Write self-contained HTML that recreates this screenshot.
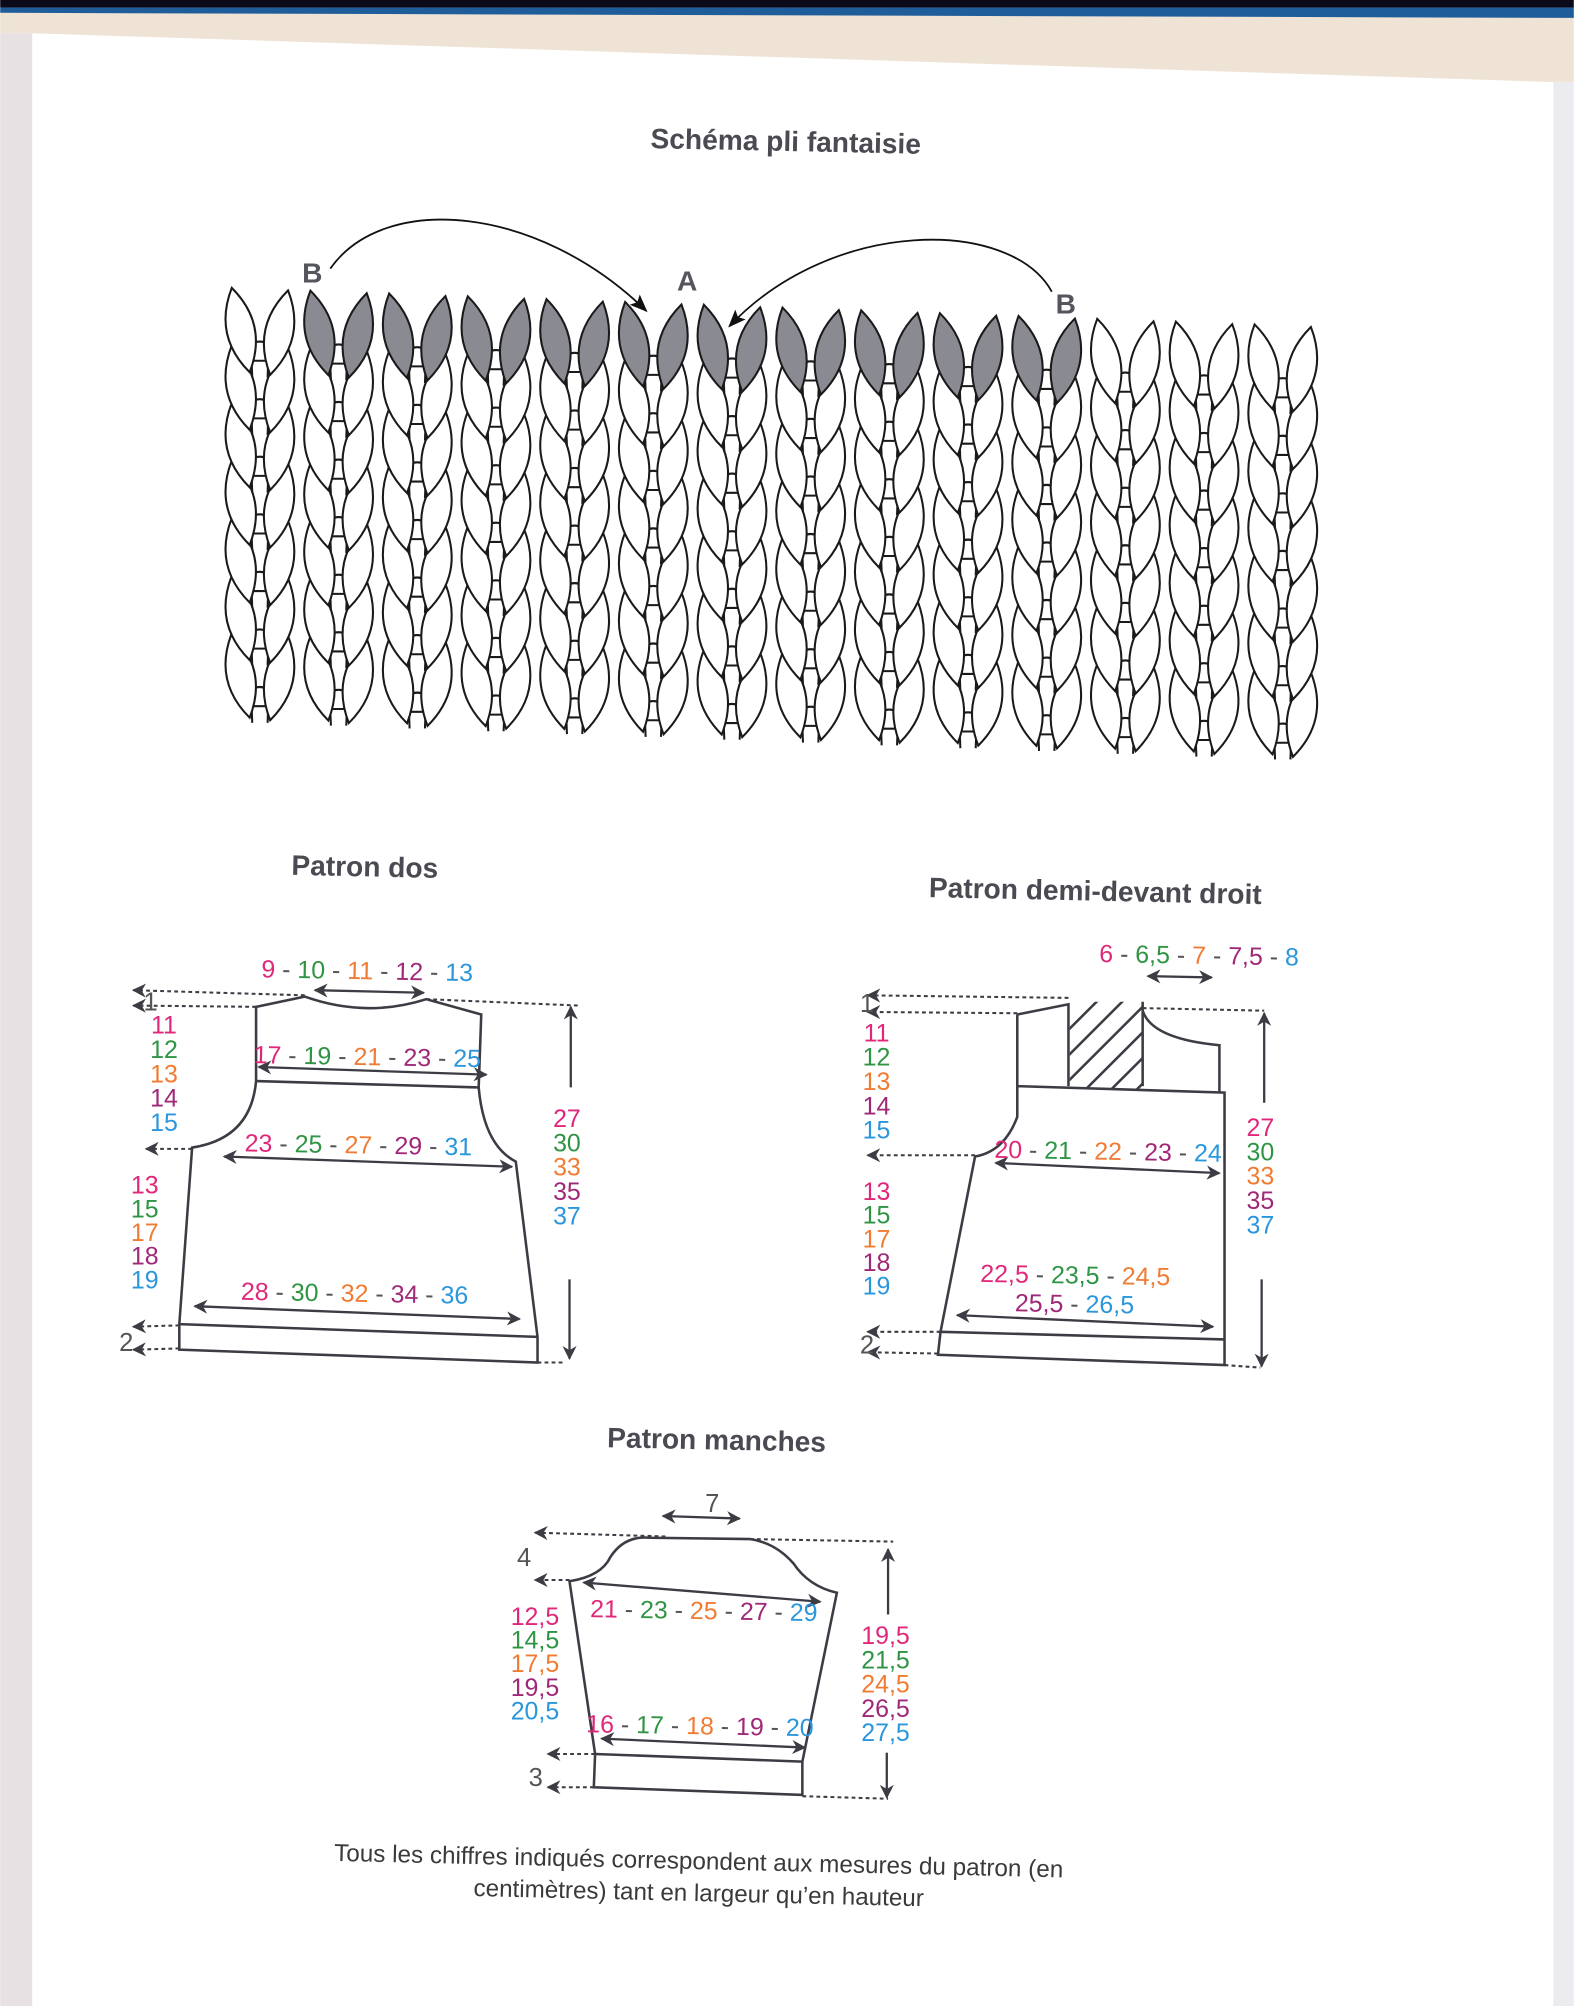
<!DOCTYPE html>
<html><head><meta charset="utf-8"><style>
html,body{margin:0;padding:0;background:#fff;}
svg{display:block;}
text{font-family:"Liberation Sans",sans-serif;}
.n{font-size:19.5px;}
.t{font-size:22px;font-weight:bold;fill:#4a4a52;}
</style></head><body>
<svg id="s" width="1574" height="2006" viewBox="0 0 1230 1568" xmlns="http://www.w3.org/2000/svg">
<defs>
<marker id="ah" viewBox="0 0 10 10" refX="9" refY="5" markerWidth="11" markerHeight="11" markerUnits="userSpaceOnUse" orient="auto-start-reverse"><path d="M0,0 L10,5 L0,10 L3,5 z" fill="#3c3c44"/></marker>
<marker id="ak" viewBox="0 0 10 10" refX="9" refY="5" markerWidth="14" markerHeight="14" markerUnits="userSpaceOnUse" orient="auto"><path d="M0,1 L10,5 L0,9 L2,5 z" fill="#111"/></marker>
<clipPath id="hc"><rect x="836" y="783" width="57" height="68"/></clipPath>
</defs>
<rect width="1230" height="1568" fill="#fff"/>
<polygon points="0,8 1230,8 1230,64 1210,64 25,26 0,26" fill="#efe3d6"/>
<rect x="0" y="0" width="1230" height="6" fill="#0a0a18"/>
<polygon points="0,6 1230,6 1230,14 0,10" fill="#1f5c9a"/>
<rect x="0" y="26" width="25" height="1542" fill="#e8e1e3"/>
<rect x="1214" y="64" width="16" height="1504" fill="#ecebef"/>

<text class="t" x="614" y="118" text-anchor="middle" transform="rotate(1.2 614 112)">Schéma pli fantaisie</text>
<g id="knit" stroke="#1a1a1a" stroke-width="1.6"></g>
<g fill="none" stroke="#111" stroke-width="1.4">
<path d="M258,210 C300,150 420,160 505,243" marker-end="url(#ak)"/>
<path d="M822,228 C790,170 650,170 570,255" marker-end="url(#ak)"/>
</g>
<g font-weight="bold" font-size="22" fill="#55555d">
<text x="236" y="221">B</text><text x="529" y="227">A</text><text x="825" y="245">B</text>
</g>

<text class="t" x="285" y="685" text-anchor="middle" transform="rotate(1.2 285 678)">Patron dos</text>
<text class="t" x="856" y="704" text-anchor="middle" transform="rotate(1.2 856 697)">Patron demi-devant droit</text>
<text class="t" x="560" y="1133" text-anchor="middle" transform="rotate(1.2 560 1126)">Patron manches</text>

<g fill="none" stroke="#3c3c44" stroke-width="2">
<path d="M200,787 L238,779 Q286,796 333,781 L376,793 L374,850 Q378,895 403,908 L420,1045 L420,1065 L140,1055 L140,1035 L150,897 Q196,890 200,845 Z"/>
<path d="M200,845 L374,850 M140,1035 L420,1045"/>
<path d="M795,793 L835,785 L835,849 M893,783 L893,849 M893,790 Q900,812 953,817 L953,854"/>
<path d="M795,793 L795,873 Q785,900 762,904 L735,1041 L733,1059 L957,1067 L957,854 L795,849"/>
<path d="M735,1041 L957,1047"/>
<path d="M445,1236 Q470,1232 477,1217 Q488,1200 508,1202 L586,1203 Q606,1206 620,1222 Q632,1240 654,1245 L627,1377 L627,1403 L464,1397 L465,1371 Z"/>
<path d="M465,1371 L627,1377"/>
</g>
<g clip-path="url(#hc)" stroke="#3c3c44" stroke-width="2">
<path d="M800,840 L880,760 M800,860 L890,770 M800,880 L900,780 M810,890 L910,790 M830,890 L920,800 M850,890 L930,810 M870,890 L940,820"/>
</g>

<g fill="none" stroke="#3c3c44" stroke-width="1.6" stroke-dasharray="3 2.5" marker-end="url(#ah)">
<path d="M238,778 L104,774"/><path d="M200,787 L104,786"/><path d="M150,898 L114,898"/>
<path d="M140,1036 L104,1037"/><path d="M140,1054 L104,1055"/>
<path d="M835,780 L678,778"/><path d="M795,792 L678,791"/><path d="M762,903 L678,903"/>
<path d="M735,1041 L678,1041"/><path d="M733,1058 L678,1057"/>
<path d="M520,1201 L418,1198"/><path d="M445,1235 L418,1235"/>
<path d="M465,1371 L428,1371"/><path d="M464,1397 L428,1397"/>
</g>
<g fill="none" stroke="#3c3c44" stroke-width="1.6" stroke-dasharray="3 2.5">
<path d="M333,781 L452,786"/><path d="M420,1065 L440,1065"/>
<path d="M893,788 L988,790"/><path d="M957,1067 L985,1069"/>
<path d="M586,1203 L698,1205"/><path d="M627,1404 L694,1406"/>
</g>
<g fill="none" stroke="#3c3c44" stroke-width="1.8" marker-end="url(#ah)">
<path d="M446,850 L446,787"/><path d="M445,1000 L445,1062"/>
<path d="M988,862 L988,792"/><path d="M986,1000 L986,1068"/>
<path d="M694,1262 L694,1211"/><path d="M693,1370 L693,1405"/>
</g>
<g fill="none" stroke="#3c3c44" stroke-width="1.8" marker-start="url(#ah)" marker-end="url(#ah)">
<path d="M246,774 L331,776"/><path d="M202,834 L380,840"/><path d="M175,904 L400,912"/><path d="M152,1021 L406,1031"/>
<path d="M897,763 L947,764"/><path d="M778,909 L953,917"/><path d="M748,1028 L948,1037"/>
<path d="M518,1185 L578,1187"/><path d="M456,1237 L641,1252"/><path d="M470,1359 L629,1366"/>
</g>

<g class="n" fill="#555">
<text x="112" y="790" font-size="20">1</text><text x="93" y="1056" font-size="20">2</text>
<text x="672" y="791" font-size="20">1</text><text x="672" y="1058" font-size="20">2</text>
<text x="404" y="1224" font-size="20">4</text><text x="413" y="1396" font-size="20">3</text>
<text x="551" y="1182" font-size="20">7</text>
</g>

<g class="n" id="nums"></g>

<g font-family="'Liberation Sans Narrow','Liberation Sans',sans-serif" font-size="19" fill="#3a3a3a" text-anchor="middle">
<text x="546" y="1461" transform="rotate(1.3 546 1455)" textLength="570" lengthAdjust="spacingAndGlyphs">Tous les chiffres indiqués correspondent aux mesures du patron (en</text>
<text x="546" y="1486" transform="rotate(1.3 546 1480)" textLength="352" lengthAdjust="spacingAndGlyphs">centimètres) tant en largeur qu’en hauteur</text>
</g>
</svg>
<script>
(function(){
var NS="http://www.w3.org/2000/svg";
var k=document.getElementById("knit");
function el(n,a,p){var e=document.createElementNS(NS,n);for(var x in a)e.setAttribute(x,a[x]);(p||k).appendChild(e);return e;}
function leaf(x1,y1,x2,y2,fill){
 var mx=(x1+x2)/2,my=(y1+y2)/2,dx=x2-x1,dy=y2-y1,L=Math.sqrt(dx*dx+dy*dy),nx=-dy/L*22,ny=dx/L*22;
 el("path",{d:"M"+x1+","+y1+" Q"+(mx+nx)+","+(my+ny)+" "+x2+","+y2+" Q"+(mx-nx)+","+(my-ny)+" "+x1+","+y1+"Z",fill:fill});
}
for(var r=6;r>=0;r--){
 for(var c=0;c<14;c++){
  var cx=203+c*61.5, y=225+c*2.2+r*45;
  el("path",{d:"M"+(cx-13)+","+(y+48)+" Q"+cx+","+(y+36)+" "+(cx+13)+","+(y+48),fill:"none"});
  el("path",{d:"M"+(cx-7)+","+(y+44)+" L"+(cx-6)+","+(y+70)+" M"+(cx+7)+","+(y+44)+" L"+(cx+6)+","+(y+70)+" M"+(cx-7)+","+(y+57)+" L"+(cx+7)+","+(y+57),fill:"none"});
 }
 for(var c=0;c<14;c++){
  var cx=203+c*61.5, y=225+c*2.2+r*45;
  var f=(r==0&&c>=1&&c<=10)?"#8a8a92":"#fff";
  leaf(cx-22,y,cx-8,y+66,f);
  leaf(cx+22,y+2,cx+8,y+68,f);
 }
}
var C={p:"#e0287a",g:"#2f9444",o:"#f07c34",m:"#a02878",b:"#2a96dc"};
var ord=["p","g","o","m","b"];
var g=document.getElementById("nums");
function line(x,y,vals,rot,cols){
 var t=el("text",{x:x,y:y,transform:"rotate("+(rot||1)+" "+x+" "+y+")"},g);
 vals.forEach(function(v,i){
  if(i>0){var s=el("tspan",{fill:"#555"},t);s.textContent=" - ";}
  var s=el("tspan",{fill:C[(cols||ord)[i]]},t);s.textContent=v;
 });
}
function col(x,y,vals,step){
 vals.forEach(function(v,i){var t=el("text",{x:x,y:y+i*step,"text-anchor":"middle",fill:C[ord[i]]},g);t.textContent=v;});
}
line(204,764,["9","10","11","12","13"]);
line(198,831,["17","19","21","23","25"]);
line(191,900,["23","25","27","29","31"]);
line(188,1016,["28","30","32","34","36"]);
col(128,808,["11","12","13","14","15"],19);
col(113,933,["13","15","17","18","19"],18.5);
col(443,881,["27","30","33","35","37"],19);
line(859,752,["6","6,5","7","7,5","8"]);
line(777,905,["20","21","22","23","24"]);
line(766,1002,["22,5","23,5","24,5"]);
line(793,1025,["25,5","26,5"],1,["m","b"]);
col(685,814,["11","12","13","14","15"],19);
col(685,938,["13","15","17","18","19"],18.5);
col(985,888,["27","30","33","35","37"],19);
line(461,1264,["21","23","25","27","29"]);
line(458,1354,["16","17","18","19","20"]);
col(418,1270,["12,5","14,5","17,5","19,5","20,5"],18.5);
col(692,1285,["19,5","21,5","24,5","26,5","27,5"],19);
})();
</script>
</body></html>
